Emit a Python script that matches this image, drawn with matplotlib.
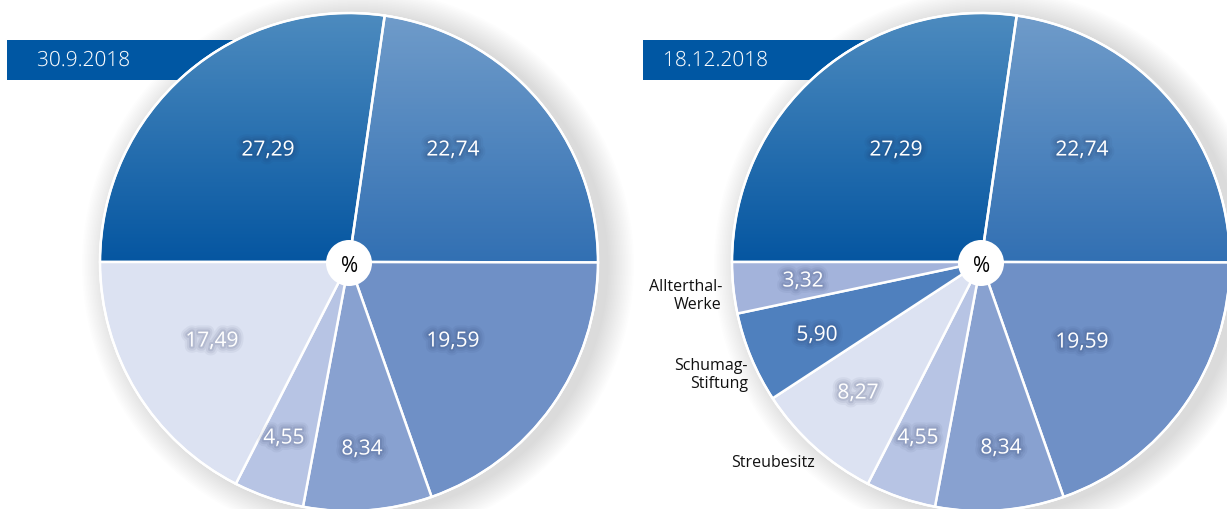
import numpy as np
import matplotlib
matplotlib.use("Agg")
import matplotlib.pyplot as plt
from matplotlib.patches import Circle, Rectangle
from matplotlib.colors import LinearSegmentedColormap
import matplotlib.patheffects as pe

plt.rcParams['font.family'] = ['Open Sans', 'DejaVu Sans']

# shareholder percentages, clockwise from 9 o'clock
dates = ["30.9.2018", "18.12.2018"]
shares_sep = [27.29, 22.74, 19.59, 8.34, 4.55, 17.49]
shares_dec = [27.29, 22.74, 19.59, 8.34, 4.55, 8.27, 5.90, 3.32]
colors_sep = ['#2a6fb0', '#4f84c0', '#6f90c6', '#88a1d0', '#b7c4e4', '#dce2f2']
colors_dec = ['#2a6fb0', '#4f84c0', '#6f90c6', '#88a1d0', '#b7c4e4', '#dce2f2',
              '#4f80be', '#a3b3db']
outside_names = ["Streubesitz", "Schumag-\nStiftung", "Allterthal-\nWerke"]

# gradient (top, bottom) colours for the two big slices
grad = [('#4d8bbf', '#0556a1'), ('#709cca', '#3270b3')]

W, H = 1227, 509
R = 249

# label offsets (px, screen y down) from pie centre
off_sep = [(-81, -112), (104, -112), (104, 79), (13, 187), (-65, 176), (-137, 79)]
off_dec = [(-85, -112), (101, -112), (101, 80), (20, 186), (-63, 176),
           (-123, 131), (-164, 73), (-178, 19)]

fig = plt.figure(figsize=(W / 100, H / 100), dpi=100)
ax = fig.add_axes([0, 0, 1, 1])

def fmt(v):
    return f"{v:.2f}".replace('.', ',')

glow = [pe.Stroke(linewidth=9, foreground='#1b2b55', alpha=0.05),
        pe.Stroke(linewidth=6, foreground='#1b2b55', alpha=0.07),
        pe.Stroke(linewidth=3, foreground='#1b2b55', alpha=0.10),
        pe.Normal()]

def draw_pie(cx, cy, values, colors, offsets, date, box_x, text_pad):
    yc = H - cy
    # date box
    ax.add_patch(Rectangle((box_x, H - 80), 300, 40, color='#0057a3', zorder=0.2, lw=0))
    ax.text(box_x + text_pad, H - 61, date, color='white', fontsize=15, fontweight='light',
            va='center', ha='left', zorder=0.3,
            path_effects=[pe.Stroke(linewidth=0.6, foreground='#0057a3'), pe.Normal()])
    # soft shadow, shifted to the right
    for k in range(1, 19):
        ax.add_patch(Circle((cx + 9, yc - 3), R + 1.5 * k, color='#000000',
                            alpha=0.008, lw=0, zorder=0.1))
    ax.add_patch(Circle((cx, yc), R + 1, color='white', lw=0, zorder=0.25))
    wedges, _ = ax.pie(values, colors=colors, center=(cx, yc), radius=R,
                       startangle=180, counterclock=False,
                       wedgeprops=dict(edgecolor='white', linewidth=1.8),
                       frame=True)
    for w in wedges:
        w.set_zorder(1)
    for i, (top, bot) in enumerate(grad):
        wedges[i].set_facecolor('none')
        cmap = LinearSegmentedColormap.from_list('g%d' % i, [bot, top])
        img = np.linspace(0, 1, 256).reshape(-1, 1)
        im = ax.imshow(img, cmap=cmap, origin='lower', aspect='auto',
                       extent=(cx - R, cx + R, yc, yc + R), zorder=0.5)
        im.set_clip_path(wedges[i])
    # outer white rim
    ax.add_patch(Circle((cx, yc), R, fill=False, ec='white', lw=1.5, zorder=2))
    for v, (dx, dy) in zip(values, offsets):
        ax.text(cx + dx, yc - dy, fmt(v), color='white', fontsize=15,
                ha='center', va='center', zorder=3, path_effects=glow)
    ax.add_patch(Circle((cx, yc - 1), 23, color='white', lw=0, zorder=3))
    ax.text(cx + 1, yc - 4, '%', color='black', fontsize=15, ha='center',
            va='center', zorder=4)

draw_pie(349, 262, shares_sep, colors_sep, off_sep, dates[0], 7, 30)
draw_pie(981, 262, shares_dec, colors_dec, off_dec, dates[1], 643, 20)

# outside labels for the right pie
ax.text(815, H - 463, outside_names[0], fontsize=11.5, ha='right', va='center', color='#111111')
ax.text(748, H - 375, outside_names[1], fontsize=11.5, ha='right', va='center',
        color='#111111', linespacing=1.1)
ax.text(722, H - 296, outside_names[2], fontsize=11.5, ha='right', va='center',
        color='#111111', linespacing=1.1)

ax.set_xlim(0, W)
ax.set_ylim(0, H)
ax.set_aspect('auto')
ax.axis('off')
fig.savefig('out.png', dpi=100)
